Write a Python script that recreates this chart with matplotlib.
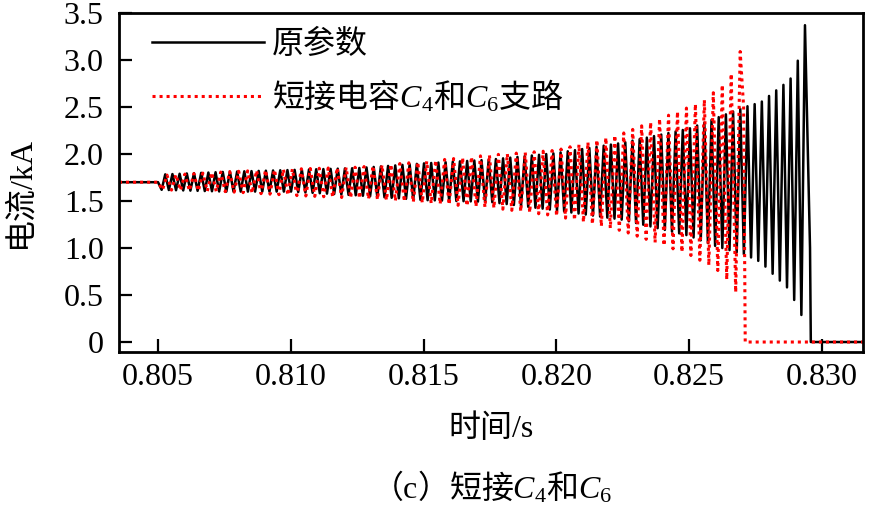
import numpy as np
import matplotlib
matplotlib.use('Agg')
import matplotlib.pyplot as plt
from matplotlib.ticker import FuncFormatter

plt.rcParams['font.family'] = ['Liberation Serif', 'Noto Sans CJK SC']
plt.rcParams['mathtext.fontset'] = 'custom'
plt.rcParams['mathtext.rm'] = 'Liberation Serif'
plt.rcParams['mathtext.it'] = 'Liberation Serif:italic'

# steady value before the oscillation starts (kA)
baseline = 1.70
t_flat_start = 0.8030

# original parameters: envelope of the oscillation
black_env_t = [0.8050, 0.8075, 0.8100, 0.8125, 0.8150, 0.8175, 0.8200, 0.8225,
               0.8250, 0.8260, 0.8271, 0.8277, 0.8282, 0.8288, 0.8291, 0.82936]
black_env_hi = [1.78, 1.81, 1.83, 1.85, 1.90, 1.94, 2.01, 2.12,
                2.27, 2.38, 2.50, 2.55, 2.66, 2.79, 3.00, 3.37]
black_env_lo = [1.62, 1.60, 1.60, 1.56, 1.51, 1.49, 1.40, 1.30,
                1.13, 1.02, 0.93, 0.85, 0.71, 0.55, 0.35, 0.22]
black_cycles = 90
black_tail_t = [0.82955, 0.82958, 0.8320]
black_tail_i = [1.00, 0.00, 0.00]

# C4 and C6 branch shorted
red_env_t = [0.8050, 0.8075, 0.8100, 0.8125, 0.8150, 0.8175, 0.8200, 0.8225,
             0.8250, 0.8256, 0.8262, 0.8266, 0.82692]
red_env_hi = [1.77, 1.81, 1.84, 1.86, 1.92, 1.99, 2.04, 2.22,
              2.50, 2.58, 2.72, 2.86, 3.09]
red_env_lo = [1.62, 1.60, 1.56, 1.53, 1.48, 1.43, 1.34, 1.18,
              0.93, 0.84, 0.74, 0.60, 0.45]
red_cycles = 65
red_tail_t = [0.82705, 0.82711, 0.8320]
red_tail_i = [2.50, 0.00, 0.00]

x_ticks = [0.805, 0.810, 0.815, 0.820, 0.825, 0.830]
y_ticks = [0, 0.5, 1.0, 1.5, 2.0, 2.5, 3.0, 3.5]


def waveform(env_t, hi, lo, cycles, tail_t, tail_i):
    # peaks alternate between lower and upper envelope
    tk = np.linspace(env_t[0], env_t[-1], 2 * cycles + 1)
    odd = np.arange(len(tk)) % 2 == 1
    vals = np.where(odd, np.interp(tk, env_t, lo), np.interp(tk, env_t, hi))
    vals[0] = baseline
    t = np.concatenate([[t_flat_start], tk, tail_t])
    i = np.concatenate([[baseline], vals, tail_i])
    return t, i


tb, ib = waveform(black_env_t, black_env_hi, black_env_lo, black_cycles, black_tail_t, black_tail_i)
tr, ir = waveform(red_env_t, red_env_hi, red_env_lo, red_cycles, red_tail_t, red_tail_i)

fig = plt.figure(figsize=(8.7, 5.05), dpi=100)
ax = fig.add_axes([0.1368, 0.303, 0.855, 0.6713])

ax.plot(tb, ib, color='black', lw=1.8, label='原参数')
ax.plot(tr, ir, color='red', lw=2.2, linestyle=(0, (1, 1.3)), label='短接电容$C_4$和$C_6$支路')

ax.set_xlim(0.80353, 0.83154)
ax.set_ylim(-0.106, 3.5)
ax.set_xticks(x_ticks)
ax.set_yticks(y_ticks)
ax.xaxis.set_major_formatter(FuncFormatter(lambda v, p: '%.3f' % v))
ax.yaxis.set_major_formatter(FuncFormatter(lambda v, p: '0' if abs(v) < 1e-9 else '%.1f' % v))
ax.tick_params(direction='in', length=9.5, width=1.6, labelsize=23)
ax.tick_params(axis='y', pad=11)
ax.tick_params(axis='x', pad=8)
for s in ax.spines.values():
    s.set_linewidth(2)

ax.set_xlabel('时间/s', fontsize=23)
ax.xaxis.set_label_coords(0.5, -0.183)
ax.set_ylabel('电流/kA', fontsize=23)
ax.yaxis.set_label_coords(-0.112, 0.472)

# mixed CJK + math strings: plain part is drawn with the text's own font
ax.legend(loc='upper left', bbox_to_anchor=(0.044, 0.955), frameon=False,
          prop={'family': 'Noto Sans CJK SC', 'size': 23},
          handlelength=3.5, handletextpad=0.25, labelspacing=0.55, borderpad=0, borderaxespad=0)

fig.text(0.565, 0.036, r'（$\mathrm{c}$）短接$C_4$和$C_6$', fontsize=23,
         family='Noto Sans CJK SC', ha='center', va='center')

fig.savefig('out.png', dpi=100)
